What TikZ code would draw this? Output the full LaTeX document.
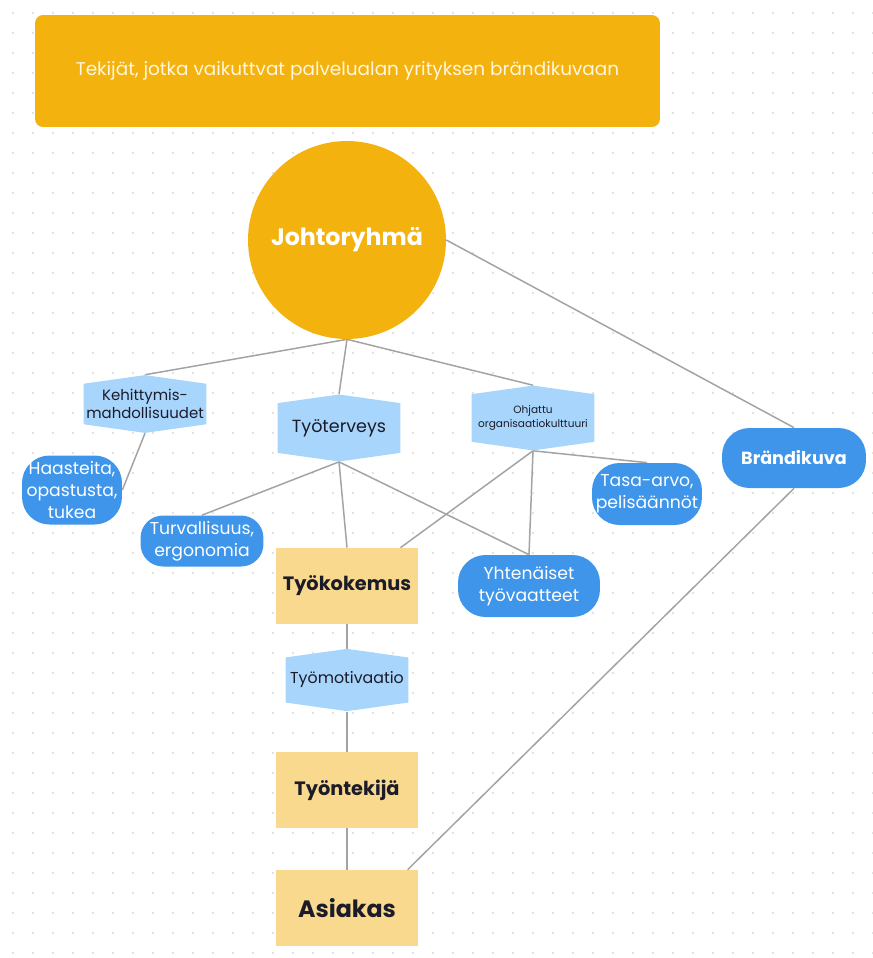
\documentclass[tikz,border=0pt]{standalone}
\usepackage{fontspec}
\setmainfont{Poppins}
\usetikzlibrary{positioning,calc,backgrounds,shapes.symbols}
\definecolor{brandGold}{HTML}{F3B20E}
\definecolor{hexBlue}{HTML}{A7D5FB}
\definecolor{pillBlue}{HTML}{3E95EA}
\definecolor{sandBox}{HTML}{F8D98D}
\definecolor{lineGrey}{HTML}{A3A3A3}
\definecolor{dotGrey}{HTML}{D8D8D8}
\definecolor{textDark}{HTML}{1B1B2A}
\definecolor{textLight}{HTML}{FFF6E0}

\begin{document}
\begin{tikzpicture}[x=0.02cm,y=-0.02cm,
      every node/.style={align=center,inner sep=0pt},
      hexbox/.style={shape=signal,signal to=north and south,signal pointer angle=164,
                     fill=hexBlue,text=textDark,minimum width=2.46cm,minimum height=1.14cm,
                     font=\fontsize{8.5pt}{10.5pt}\selectfont},
      pill/.style={fill=pillBlue,text=white,rounded corners=0.55cm,
                   font=\fontsize{9.8pt}{12.5pt}\selectfont},
      sandbox/.style={fill=sandBox,text=textDark,minimum width=2.84cm,minimum height=1.52cm,
                      font=\bfseries\fontsize{11pt}{13pt}\selectfont},
      link/.style={draw=lineGrey,line width=0.85pt}]
  \useasboundingbox (0,0) rectangle (873,958);

  % header and top
  \node[fill=brandGold,rounded corners=0.16cm,minimum width=12.5cm,minimum height=2.24cm,
        text=textLight,font=\fontsize{10.5pt}{12pt}\selectfont]
        (title) at (347.5,71) {Tekijät, jotka vaikuttvat palvelualan yrityksen brändikuvaan};
  \node[circle,fill=brandGold,minimum size=3.96cm,text=white,
        font=\bfseries\fontsize{13.5pt}{15pt}\selectfont]
        (johto) at (347,240) {Johtoryhmä};

  % second row
  \node[hexbox] (kehitys) at (145,404) {Kehittymis-\\mahdollisuudet};
  \node[hexbox,minimum height=1.26cm,font=\fontsize{10pt}{12pt}\selectfont]
        (terveys) at (339,428) {Työterveys};
  \node[hexbox,minimum height=1.26cm,font=\fontsize{6pt}{8pt}\selectfont]
        (kulttuuri) at (533,418) {Ohjattu\\organisaatiokulttuuri};
  \node[pill,minimum width=2.88cm,minimum height=1.2cm,
        font=\bfseries\fontsize{10pt}{12pt}\selectfont] (brandi) at (794,458) {Brändikuva};

  % leaves
  \node[pill,minimum width=2.0cm,minimum height=1.38cm] (haaste) at (72,490)
        {Haasteita,\\opastusta,\\tukea};
  \node[pill,minimum width=2.46cm,minimum height=1.02cm,rounded corners=0.45cm]
        (turva) at (202,541) {Turvallisuus,\\ergonomia};
  \node[pill,minimum width=2.2cm,minimum height=1.24cm] (tasa) at (647,494)
        {Tasa-arvo,\\pelisäännöt};
  \node[pill,minimum width=2.84cm,minimum height=1.24cm] (vaatteet) at (529,586)
        {Yhtenäiset\\työvaatteet};

  % main column
  \node[sandbox] (kokemus) at (347,586) {Työkokemus};
  \node[hexbox,minimum height=1.22cm,font=\fontsize{9pt}{11pt}\selectfont]
        (motivaatio) at (347,680) {Työmotivaatio};
  \node[sandbox] (tyontekija) at (347,790) {Työntekijä};
  \node[sandbox,font=\bfseries\fontsize{13.5pt}{15pt}\selectfont] (asiakas) at (347,908) {Asiakas};

  \begin{scope}[on background layer]
    \foreach \gx in {0,...,43}
      \foreach \gy in {0,...,47}
        \fill[dotGrey] (\gx*20+13,\gy*20+13) circle (0.6pt);
    \draw[link] (johto.south) -- (kehitys.north);
    \draw[link] (johto.south) -- (terveys.north);
    \draw[link] (johto.south) -- (kulttuuri.north);
    \draw[link] (johto.east) -- (brandi.north);
    \draw[link] (kehitys.south) -- (haaste.east);
    \draw[link] (terveys.south) -- (turva.north);
    \draw[link] (terveys.south) -- (kokemus.north);
    \draw[link] (terveys.south) -- (vaatteet.north);
    \draw[link] (kulttuuri.south) -- ($(kokemus.north)!.75!(kokemus.north east)$);
    \draw[link] (kulttuuri.south) -- (vaatteet.north);
    \draw[link] (kulttuuri.south) -- (tasa.north);
    \draw[link] (kokemus.south) -- (motivaatio.north);
    \draw[link] (motivaatio.south) -- (tyontekija.north);
    \draw[link] (tyontekija.south) -- (asiakas.north);
    \draw[link] (brandi.south) -- ($(asiakas.north)!.85!(asiakas.north east)$);
  \end{scope}
\end{tikzpicture}
\end{document}
